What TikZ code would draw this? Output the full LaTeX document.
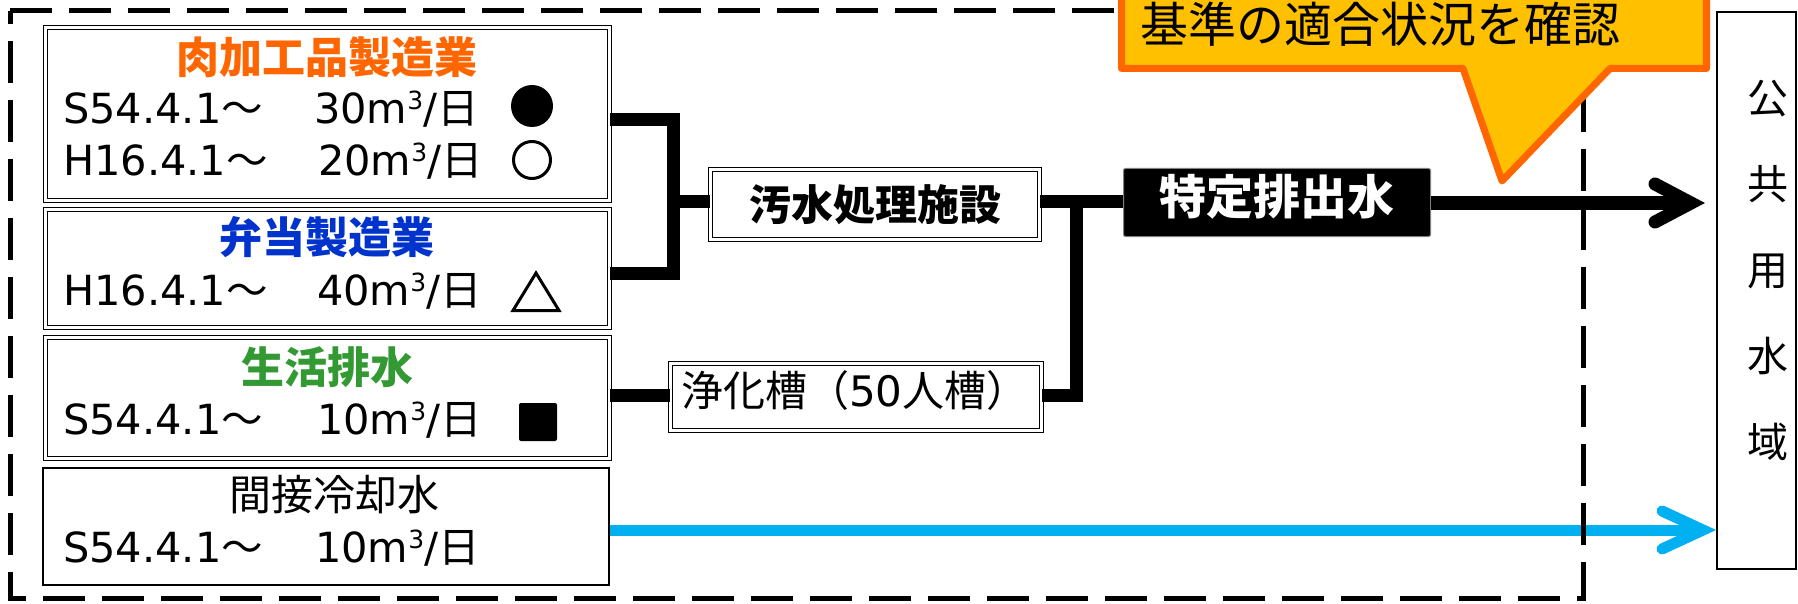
\documentclass[tikz,border=0pt]{standalone}
\usepackage{fontspec}
\setmainfont{Noto Sans CJK JP}
\newfontfamily\lat{DejaVu Sans}
\usetikzlibrary{calc}
\definecolor{orgT}{HTML}{FF6600}
\definecolor{bluT}{HTML}{0033CC}
\definecolor{grnT}{HTML}{339933}
\definecolor{callfill}{HTML}{FFC000}
\definecolor{callline}{HTML}{FF6600}
\definecolor{skyline}{HTML}{00B0F0}
\newcommand\amt[1]{{\lat #1m\raisebox{14pt}{\fontsize{25}{25}\selectfont 3}/}日}
\tikzset{
  dblbox/.style={draw, line width=1.2pt, double=white, double distance=2.4pt, inner sep=0pt, fill=white},
  sglbox/.style={draw, line width=2pt, inner sep=0pt, fill=white},
  conn/.style={line width=13pt, line join=miter, line cap=butt},
  chevron/.style={line width=13pt, line join=miter, line cap=round},
  blueconn/.style={draw=skyline, line width=11pt, line join=miter, line cap=butt},
  bluechev/.style={draw=skyline, line width=11pt, line join=miter, line cap=round},
  dashframe/.style={line width=5pt, dash pattern=on 42pt off 17pt},
  ttl/.style={inner sep=0pt, font=\fontsize{43}{50}\selectfont\bfseries},
  ln/.style={inner sep=0pt, anchor=base west, font=\fontsize{41.5}{50}\selectfont},
}
\begin{document}
\begin{tikzpicture}[x=1pt,y=-1pt]
\useasboundingbox (0,0) rectangle (1798,604);
\fill[white] (0,0) rectangle (1798,604);
\clip (0,0) rectangle (1798,604);

% source boxes
\node[dblbox, minimum width=564pt, minimum height=173pt] (b1) at (327.5,114) {};
\node[dblbox, minimum width=564pt, minimum height=118pt] (b2) at (327.5,268.5) {};
\node[dblbox, minimum width=564pt, minimum height=121pt] (b3) at (327.5,398) {};
\node[sglbox, minimum width=566pt, minimum height=117pt] (b4) at (326,526.5) {};

\node[ttl, text=orgT] (t1) at (327,57) {肉加工品製造業};
\node[ln] (d1a) at (63,124) {{\lat S54.4.1}～};
\node[ln] (d1b) at (314,124) {\amt{30}};
\node[ln] (d1c) at (63,176) {{\lat H16.4.1}～};
\node[ln] (d1d) at (318,176) {\amt{20}};
\node[circle, fill=black, minimum size=42pt, inner sep=0pt] (m1) at (532,106) {};
\node[circle, draw=black, line width=3pt, minimum size=37pt, inner sep=0pt] (m2) at (532,160) {};

\node[ttl, text=bluT] (t2) at (327,237) {弁当製造業};
\node[ln] (d2a) at (63,305) {{\lat H16.4.1}～};
\node[ln] (d2b) at (317,305) {\amt{40}};
\draw[line width=3pt, line join=miter] (513,310.5) -- (536,273) -- (559,310.5) -- cycle;

\node[ttl, text=grnT] (t3) at (327,367) {生活排水};
\node[ln] (d3a) at (63,434) {{\lat S54.4.1}～};
\node[ln] (d3b) at (317,434) {\amt{10}};
\node[fill=black, minimum size=38pt, inner sep=0pt, rounded corners=2pt] (m4) at (538,422) {};

\node[inner sep=0pt, font=\fontsize{42}{50}\selectfont] (t4) at (334,495) {間接冷却水};
\node[ln] (d4a) at (63,562) {{\lat S54.4.1}～};
\node[ln] (d4b) at (315,562) {\amt{10}};

% treatment boxes
\node[dblbox, minimum width=329pt, minimum height=70pt, font=\fontsize{42}{50}\selectfont\bfseries] (wt) at (875,204.5) {汚水処理施設};
\node[dblbox, minimum width=371pt, minimum height=67pt] (jo) at (856,397) {};
\node[inner sep=0pt, anchor=west, font=\fontsize{42}{50}\selectfont] (jot) at (681,391) {浄化槽（{\lat 50}人槽）};
\node[draw=gray, line width=1pt, fill=black, rounded corners=2pt, inner sep=0pt,
      minimum width=307pt, minimum height=68pt] (tok) at (1277,202.5) {};
\node[inner sep=0pt, text=white, font=\fontsize{47}{50}\selectfont\bfseries] (tokt) at (1277,197) {特定排出水};
\node[sglbox, minimum width=79pt, minimum height=557pt] (pub) at (1756.5,290.5) {};
\node[inner sep=0pt, align=center, font=\fontsize{41}{86}\selectfont] (pubt) at (1768,270) {公\\共\\用\\水\\域};

% connectors
\coordinate (jt) at (673,120);
\coordinate (jb) at (673,273);
\coordinate (jm) at (673,202);
\draw[conn] (b1.east |- jt) -- (jt) -- (jb) -- (b2.east |- jb);
\draw[conn] (jm) -- (wt.west |- jm);
\coordinate (k1) at (1076,202);
\coordinate (k2) at (1076,395);
\draw[conn] (wt.east |- k1) -- (tok.west |- k1);
\draw[conn] (jo.east |- k2) -- (k2) -- (k1);
\draw[conn] (b3.east |- k2) -- (jo.west |- k2);

% outflow arrows
\coordinate (av) at (1691,203);
\draw[conn] (tok.east |- av) -- (av);
\draw[chevron] ($(av)+(-36,-19)$) -- (av) -- ($(av)+(-36,19)$);
\coordinate (bv) at (1703,530);
\draw[blueconn] (b4.east |- bv) -- (bv);
\draw[bluechev] ($(bv)+(-41,-19)$) -- (bv) -- ($(bv)+(-41,19)$);

% dashed frame
\draw[dashframe] (10,11) -- (1583,11) -- (1583,598) -- (10,598) -- cycle;

% callout
\draw[fill=callfill, draw=callline, line width=7pt, line join=round]
  (1121.5,-30) -- (1121.5,68.5) -- (1463,68.5) -- (1502,181) -- (1610,68.5)
  -- (1706.5,68.5) -- (1706.5,-30) -- cycle;
\node[inner sep=0pt, anchor=west, font=\fontsize{48}{50}\selectfont] (cot) at (1140,24) {基準の適合状況を確認};
\end{tikzpicture}
\end{document}
